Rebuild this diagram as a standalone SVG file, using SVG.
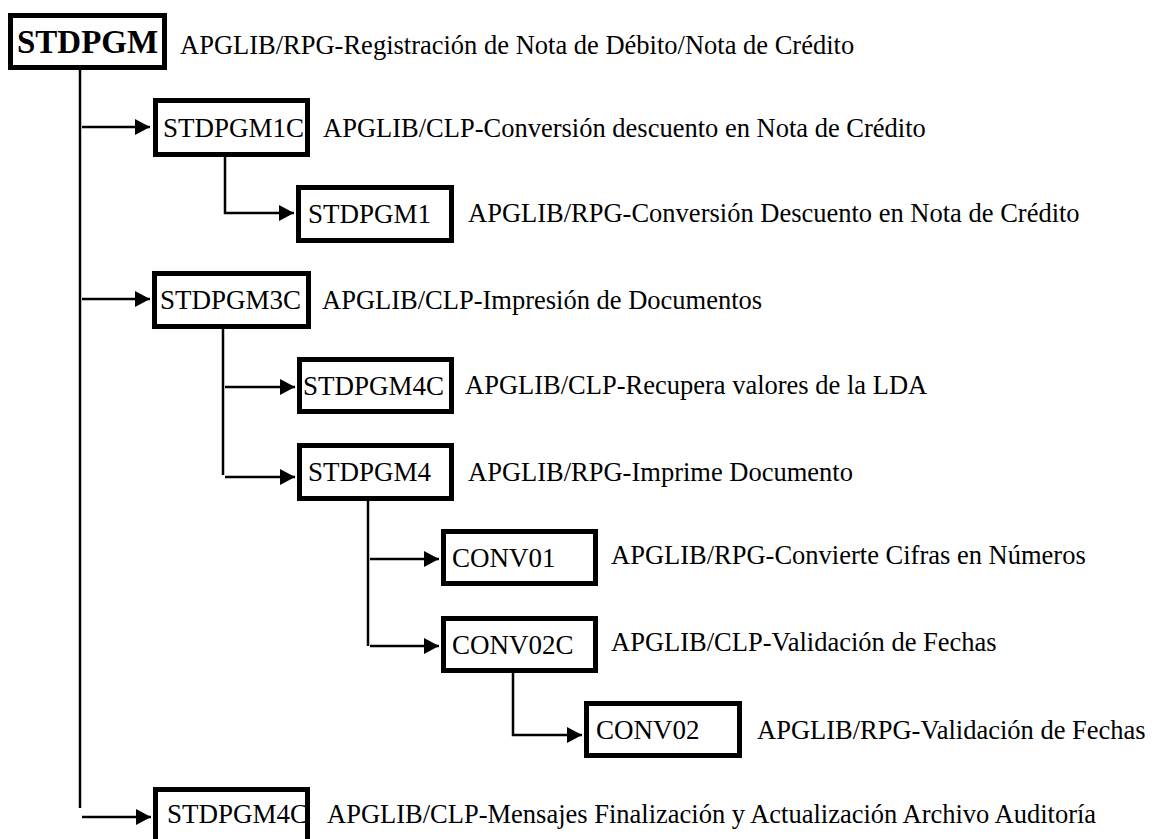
<svg xmlns="http://www.w3.org/2000/svg" width="1153" height="839" viewBox="0 0 1153 839">
<style>
.box{fill:#fff;stroke:#000;stroke-width:5}
.lbl{font-family:"Liberation Serif","Times New Roman",serif;font-size:27px;fill:#000}
.root{font-family:"Liberation Serif","Times New Roman",serif;font-size:33px;font-weight:bold;fill:#000}
.desc{font-family:"Liberation Serif","Times New Roman",serif;font-size:26.5px;fill:#000}
.con{fill:none;stroke:#000;stroke-width:2.5}
.arr{marker-end:url(#ah)}
</style>
<defs>
<marker id="ah" markerUnits="userSpaceOnUse" markerWidth="16" markerHeight="16" refX="15" refY="8" orient="auto">
<path d="M0,0 L15,8 L0,16 z" fill="#000"/>
</marker>
</defs>
<rect width="1153" height="839" fill="#fff"/>
<g id="connectors">
<path class="con" d="M80,70 V808"/>
<path class="con arr" d="M82,127 H150"/>
<path class="con arr" d="M82,299 H150"/>
<path class="con arr" d="M82,817 H151"/>
<path class="con arr" d="M225,157 V213 H294"/>
<path class="con" d="M223,329 V475"/>
<path class="con arr" d="M225,387 H295"/>
<path class="con arr" d="M225,477 H295"/>
<path class="con" d="M368,501 V646"/>
<path class="con arr" d="M370,559 H439"/>
<path class="con arr" d="M370,646 H439"/>
<path class="con arr" d="M513,673 V735 H582"/>
</g>
<g id="STDPGM">
<rect class="box" x="10.5" y="15.5" width="154" height="52"/>
<text class="root" x="17" y="53">STDPGM</text>
<text class="desc" x="180" y="54">APGLIB/RPG-Registración de Nota de Débito/Nota de Crédito</text>
</g>
<g id="STDPGM1C">
<rect class="box" x="155.5" y="100.5" width="152" height="54"/>
<text class="lbl" x="163" y="137">STDPGM1C</text>
<text class="desc" x="323" y="137">APGLIB/CLP-Conversión descuento en Nota de Crédito</text>
</g>
<g id="STDPGM1">
<rect class="box" x="298.5" y="187.5" width="153" height="53"/>
<text class="lbl" x="308" y="223">STDPGM1</text>
<text class="desc" x="468" y="222">APGLIB/RPG-Conversión Descuento en Nota de Crédito</text>
</g>
<g id="STDPGM3C">
<rect class="box" x="154.5" y="273.5" width="154" height="53"/>
<text class="lbl" x="160" y="309">STDPGM3C</text>
<text class="desc" x="322" y="309">APGLIB/CLP-Impresión de Documentos</text>
</g>
<g id="STDPGM4C-a">
<rect class="box" x="299.5" y="359.5" width="152" height="52"/>
<text class="lbl" x="303" y="395">STDPGM4C</text>
<text class="desc" x="465" y="394">APGLIB/CLP-Recupera valores de la LDA</text>
</g>
<g id="STDPGM4">
<rect class="box" x="299.5" y="445.5" width="152" height="53"/>
<text class="lbl" x="308" y="481">STDPGM4</text>
<text class="desc" x="468" y="481">APGLIB/RPG-Imprime Documento</text>
</g>
<g id="CONV01">
<rect class="box" x="443.5" y="531.5" width="152" height="52"/>
<text class="lbl" x="452" y="567">CONV01</text>
<text class="desc" x="611" y="564">APGLIB/RPG-Convierte Cifras en Números</text>
</g>
<g id="CONV02C">
<rect class="box" x="443.5" y="618.5" width="152" height="52"/>
<text class="lbl" x="452" y="654">CONV02C</text>
<text class="desc" x="611" y="651">APGLIB/CLP-Validación de Fechas</text>
</g>
<g id="CONV02">
<rect class="box" x="586.5" y="703.5" width="153" height="52"/>
<text class="lbl" x="596" y="739">CONV02</text>
<text class="desc" x="757" y="739">APGLIB/RPG-Validación de Fechas</text>
</g>
<g id="STDPGM4C-b">
<rect class="box" x="155.5" y="789.5" width="152" height="53"/>
<text class="lbl" x="167" y="823">STDPGM4C</text>
<text class="desc" x="327" y="823">APGLIB/CLP-Mensajes Finalización y Actualización Archivo Auditoría</text>
</g>
</svg>
